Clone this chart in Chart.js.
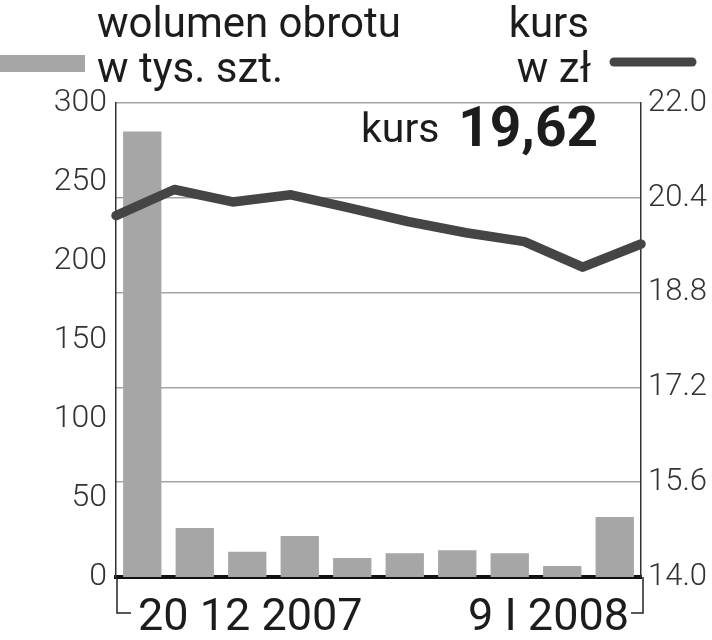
<!DOCTYPE html>
<html>
<head>
<meta charset="utf-8">
<script src="https://cdn.jsdelivr.net/npm/chart.js@4"></script>
<style>
html,body{margin:0;padding:0;background:#fff;}
#wrap{width:712px;height:640px;position:relative;}
canvas{display:block;}
</style>
</head>
<body>
<div id="wrap"><canvas id="c" width="712" height="640"></canvas></div>
<script>
// ---- data ----
const categories = ['20.12.2007','21.12.2007','27.12.2007','28.12.2007','02.01.2008','03.01.2008','04.01.2008','07.01.2008','08.01.2008','09.01.2008'];
const volume = [282, 31, 16, 26, 12, 15, 17, 15, 7, 38];
const price = [20.10, 20.54, 20.33, 20.45, 20.23, 20.00, 19.81, 19.66, 19.23, 19.62];
const leftTicks = [0, 50, 100, 150, 200, 250, 300];
const rightTicks = [14.0, 15.6, 17.2, 18.8, 20.4, 22.0];
const dateLabels = ['20 12 2007', '9 I 2008'];
const volumeTitle = ['wolumen obrotu', 'w tys. szt.'];
const priceTitle = ['kurs', 'w zł'];
const lastLabel = 'kurs';

const barColor = '#a5a6a5';
const lineColor = '#454545';
const textColor = '#1c1c1c';

const decor = {
  id: 'decor',
  afterDraw(chart) {
    const ctx = chart.ctx;
    const a = chart.chartArea;
    const x2 = chart.scales.x2;
    ctx.save();
    // header titles
    ctx.fillStyle = textColor;
    ctx.textBaseline = 'alphabetic';
    ctx.font = '400 42px Roboto';
    ctx.textAlign = 'left';
    ctx.fillText(volumeTitle[0], 97, 37);
    ctx.fillText(volumeTitle[1], 97, 82);
    ctx.textAlign = 'right';
    ctx.fillText(priceTitle[0], 589, 37);
    ctx.fillText(priceTitle[1], 591, 82);
    // legend swatches
    ctx.fillStyle = chart.data.datasets[0].backgroundColor;
    ctx.fillRect(0, 55, 85, 17);
    ctx.strokeStyle = chart.data.datasets[1].borderColor;
    ctx.lineWidth = 9;
    ctx.lineCap = 'round';
    ctx.beginPath();
    ctx.moveTo(614, 62);
    ctx.lineTo(692, 62);
    ctx.stroke();
    // last value annotation
    const last = price[price.length - 1].toFixed(2).replace('.', ',');
    ctx.fillStyle = textColor;
    ctx.textAlign = 'left';
    ctx.font = '400 41px Roboto';
    ctx.fillText(lastLabel, 361, 142);
    ctx.textAlign = 'right';
    ctx.font = '700 55px Roboto';
    ctx.fillText(last, a.right - 43, 146);
    // bottom bracket
    const xl = x2.getPixelForValue(0);
    const xr = x2.getPixelForValue(categories.length - 1);
    ctx.strokeStyle = '#222';
    ctx.lineWidth = 1.5;
    ctx.lineCap = 'butt';
    ctx.beginPath();
    ctx.moveTo(xl + 1, a.bottom);
    ctx.lineTo(xl + 1, 613);
    ctx.lineTo(xl + 15, 613);
    ctx.moveTo(xr + 2, a.bottom);
    ctx.lineTo(xr + 2, 613);
    ctx.lineTo(xr - 10, 613);
    ctx.stroke();
    // date labels
    ctx.fillStyle = textColor;
    ctx.font = '400 45px Roboto';
    ctx.textAlign = 'left';
    ctx.fillText(dateLabels[0], xl + 22, 630);
    ctx.textAlign = 'right';
    ctx.fillText(dateLabels[1], xr - 12, 630);
    ctx.restore();
  }
};

const tickFont = {family: 'Roboto', size: 32, weight: '300'};

new Chart(document.getElementById('c'), {
  type: 'bar',
  data: {
    labels: categories,
    datasets: [
      {
        label: volumeTitle.join(' '),
        data: volume,
        backgroundColor: barColor,
        barPercentage: 0.73,
        categoryPercentage: 1.0,
        grouped: false,
        yAxisID: 'y',
        xAxisID: 'x',
        order: 1
      },
      {
        type: 'line',
        label: priceTitle.join(' '),
        data: price,
        borderColor: lineColor,
        backgroundColor: lineColor,
        borderWidth: 9.5,
        pointRadius: 0,
        tension: 0,
        borderJoinStyle: 'round',
        borderCapStyle: 'round',
        clip: false,
        yAxisID: 'y1',
        xAxisID: 'x2',
        order: 0
      }
    ]
  },
  options: {
    responsive: false,
    animation: false,
    devicePixelRatio: 1,
    layout: {padding: {top: 103, left: 0, right: 0, bottom: 0}},
    plugins: {legend: {display: false}, tooltip: {enabled: false}},
    scales: {
      x: {
        type: 'category',
        offset: true,
        grid: {display: false, drawTicks: false},
        ticks: {display: false},
        border: {color: '#111', width: 4},
        afterFit: s => { s.height = 63; }
      },
      x2: {
        type: 'category',
        labels: categories,
        offset: false,
        display: false
      },
      y: {
        position: 'left',
        min: 0,
        max: 300,
        afterBuildTicks: s => { s.ticks = leftTicks.map(v => ({value: v})); },
        grid: {display: false, drawTicks: false},
        border: {color: '#333', width: 1.5},
        ticks: {padding: 9, font: tickFont, color: '#333'},
        afterFit: s => { s.width = 116; }
      },
      y1: {
        position: 'right',
        min: 14,
        max: 22,
        afterBuildTicks: s => { s.ticks = rightTicks.map(v => ({value: v})); },
        grid: {color: '#a3a3a3', lineWidth: 1.5, drawTicks: false},
        border: {color: '#333', width: 1.5},
        ticks: {padding: 7, font: {family: 'Roboto', size: 31, weight: '300'}, color: '#333', callback: v => Number(v).toFixed(1)},
        afterFit: s => { s.width = 71; }
      }
    }
  },
  plugins: [decor]
});
</script>
</body>
</html>
